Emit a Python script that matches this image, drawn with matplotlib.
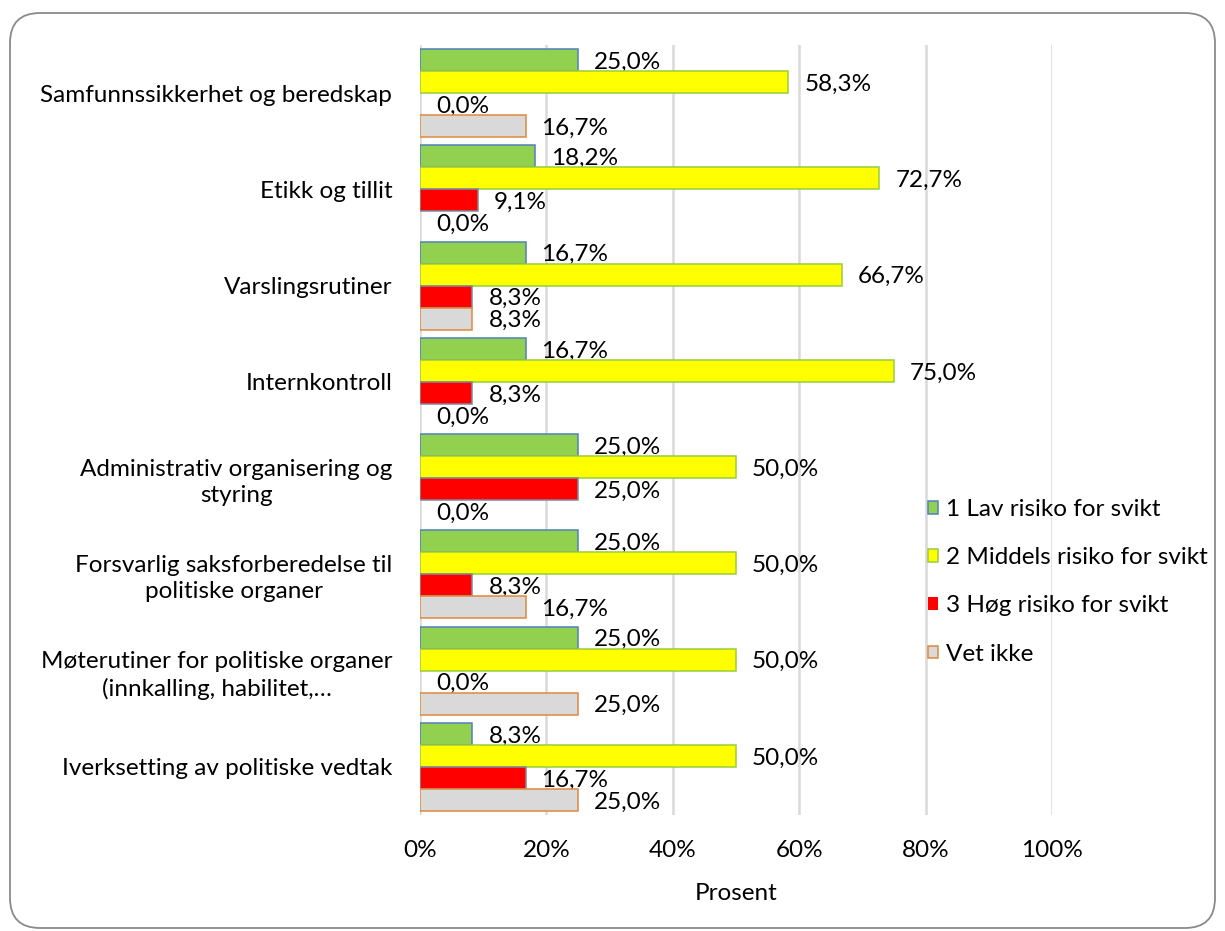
import matplotlib.pyplot as plt
from matplotlib.patches import FancyBboxPatch
import numpy as np

categories = [
    'Samfunnssikkerhet og beredskap',
    'Etikk og tillit',
    'Varslingsrutiner',
    'Internkontroll',
    'Administrativ organisering og\nstyring',
    'Forsvarlig saksforberedelse til\npolitiske organer',
    'Møterutiner for politiske organer\n(innkalling, habilitet,…',
    'Iverksetting av politiske vedtak',
]
lav = [25.0, 18.2, 16.7, 16.7, 25.0, 25.0, 25.0, 8.3]
middels = [58.3, 72.7, 66.7, 75.0, 50.0, 50.0, 50.0, 50.0]
hoy = [0.0, 9.1, 8.3, 8.3, 25.0, 8.3, 0.0, 16.7]
vet_ikke = [16.7, 0.0, 8.3, 0.0, 0.0, 16.7, 25.0, 25.0]

series_names = ['1 Lav risiko for svikt', '2 Middels risiko for svikt',
                '3 Høg risiko for svikt', 'Vet ikke']
fills = ['#92D050', '#FFFF00', '#FF0000', '#D9D9D9']
edges = ['#4F81BD', '#9BCB3C', '#7F8A9C', '#E0893B']

plt.rcParams['font.family'] = ['Lato', 'DejaVu Sans']
fs = 17.5

fig = plt.figure(figsize=(12.25, 9.31), dpi=100)

# rounded frame around the whole chart, in pixel units
bg = fig.add_axes([0, 0, 1, 1])
bg.set_xlim(0, 1225)
bg.set_ylim(931, 0)
bg.axis('off')
bg.add_patch(FancyBboxPatch((10, 13), 1205, 915, boxstyle='round,pad=0,rounding_size=30',
                            fc='white', ec='#8a8a8a', lw=1.3))

ax = fig.add_axes([420 / 1225, (931 - 815) / 931, 632 / 1225, 770 / 931])
ax.patch.set_alpha(0)

y = np.arange(len(categories))
h = 0.228
all_series = [lav, middels, hoy, vet_ikke]
for i in range(4):
    pos = y + (i - 1.5) * h
    bars = ax.barh(pos, all_series[i], height=h, color=fills[i], edgecolor=edges[i],
                   linewidth=1.1, label=series_names[i], zorder=3)
    for b, p, v in zip(bars, pos, all_series[i]):
        if v == 0:
            b.set_edgecolor('none')
        ax.annotate(f'{v:.1f}%'.replace('.', ','), (v, p), xytext=(11.5, -1.5),
                    textcoords='offset points', va='center', ha='left', fontsize=fs)

ax.set_xlim(0, 100)
ax.set_ylim(len(categories) - 0.5, -0.5)
ax.set_xticks(range(0, 101, 20))
ax.set_xticklabels([f'{t}%' for t in range(0, 101, 20)])
ax.set_yticks(y)
ax.set_yticklabels(categories)
plt.setp(ax.get_yticklabels(), multialignment='center', linespacing=1.3)
ax.xaxis.grid(True, color='#d9d9d9', lw=1.8)
ax.set_axisbelow(True)
for s in ax.spines.values():
    s.set_visible(False)
ax.tick_params(length=0, labelsize=fs)
ax.tick_params(axis='y', pad=20)
ax.tick_params(axis='x', pad=18)
ax.set_xlabel('Prosent', fontsize=fs, labelpad=16)

ax.legend(loc='upper left', bbox_to_anchor=(928 / 1225, 1 - 499 / 931),
          bbox_transform=fig.transFigure, frameon=False, fontsize=fs,
          handlelength=0.42, handleheight=0.42, handletextpad=0.3,
          labelspacing=1.12, borderpad=0, borderaxespad=0)

plt.savefig('out.png', dpi=100)
